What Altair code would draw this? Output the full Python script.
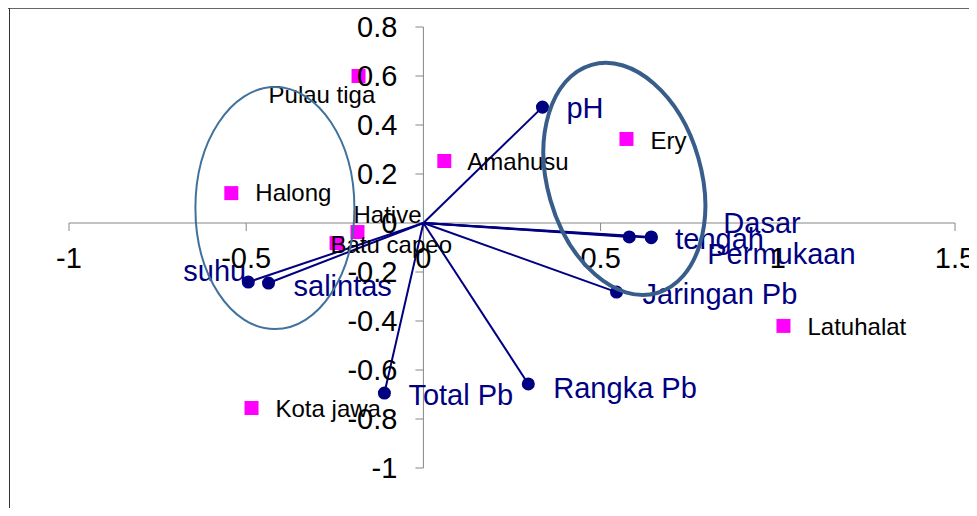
import altair as alt
import pandas as pd

# ---------------- data ----------------
site_names = ["Pulau tiga", "Halong", "Hative", "Batu capeo", "Amahusu", "Ery", "Latuhalat", "Kota jawa"]
site_x = [-0.183, -0.542, -0.186, -0.245, 0.059, 0.573, 1.016, -0.485]
site_y = [0.600, 0.122, -0.037, -0.082, 0.253, 0.343, -0.420, -0.755]

var_names = ["pH", "Dasar", "tengah", "Permukaan", "Jaringan Pb", "Rangka Pb", "Total Pb", "salintas", "suhu"]
var_x = [0.336, 0.581, 0.643, 0.643, 0.545, 0.296, -0.110, -0.437, -0.494]
var_y = [0.473, -0.057, -0.057, -0.060, -0.282, -0.657, -0.694, -0.245, -0.241]

x_ticks = [-1, -0.5, 0, 0.5, 1, 1.5]
x_tick_labels = ["-1", "-0.5", "0", "0.5", "1", "1.5"]
y_ticks = [-1, -0.8, -0.6, -0.4, -0.2, 0, 0.2, 0.4, 0.6, 0.8]
y_tick_labels = ["-1", "-0.8", "-0.6", "-0.4", "-0.2", "0", "0.2", "0.4", "0.6", "0.8"]

ellipse_cx = [-0.419, 0.567]
ellipse_cy = [0.061, 0.180]

# ---------------- layout / style ----------------
W, H = 961, 500
PX_X = 354.4   # pixels per x unit
PX_Y = 245.0   # pixels per y unit
X_MIN = -1 - 61 / PX_X
X_MAX = X_MIN + W / PX_X
Y_MAX = 215 / PX_Y
Y_MIN = Y_MAX - H / PX_Y

FONT = "Liberation Sans"
NAVY = "#000080"
MAGENTA = "#FF00FF"
AXIS_C = "#868686"

site_label_off = {
    "Pulau tiga": (-90, 20), "Halong": (24, 1), "Hative": (-4, -16),
    "Batu capeo": (-6, 3), "Amahusu": (23, 2), "Ery": (24, 3),
    "Latuhalat": (24, 2), "Kota jawa": (24, 2),
}
var_label_off = {
    "pH": (24, 2), "Dasar": (94, -13), "tengah": (24, 3), "Permukaan": (56, 17),
    "Jaringan Pb": (26, 3), "Rangka Pb": (25, 5), "Total Pb": (24, 3),
    "salintas": (25, 4), "suhu": (-65, -10),
}

xs = alt.Scale(domain=[X_MIN, X_MAX], nice=False, zero=False)
ys = alt.Scale(domain=[Y_MIN, Y_MAX], nice=False, zero=False)


def X(f):
    return alt.X(f, type="quantitative", scale=xs, axis=None)


def Y(f):
    return alt.Y(f, type="quantitative", scale=ys, axis=None)


def ellipse_path(ratio):
    k = 0.5523
    a = ratio
    return (f"M{a},0 C{a},{k} {k*a},1 0,1 C{-k*a},1 {-a},{k} {-a},0 "
            f"C{-a},{-k} {-k*a},-1 0,-1 C{k*a},-1 {a},{-k} {a},0 Z")


sites = pd.DataFrame({"name": site_names, "x": site_x, "y": site_y})
vars_df = pd.DataFrame({"name": var_names, "x": var_x, "y": var_y,
                        "x0": [0.0] * len(var_names), "y0": [0.0] * len(var_names)})
xt = pd.DataFrame({"v": x_ticks, "lab": x_tick_labels, "zero": [0.0] * len(x_ticks)})
yt = pd.DataFrame({"v": y_ticks, "lab": y_tick_labels, "zero": [0.0] * len(y_ticks)})
axes_df = pd.DataFrame({"x": [x_ticks[0], 0.0], "x2": [x_ticks[-1], 0.0],
                        "y": [0.0, y_ticks[0]], "y2": [0.0, y_ticks[-1]]})
one = pd.DataFrame({"a": [0]})

layers = []

# axis lines
layers.append(alt.Chart(axes_df).mark_rule(color=AXIS_C, strokeWidth=1).encode(
    x=X("x"), x2="x2", y=Y("y"), y2="y2"))
# tick marks
layers.append(alt.Chart(xt).mark_point(shape="M0,0L0,1", size=256, filled=False,
                                       stroke=AXIS_C, strokeWidth=1, opacity=1).encode(
    x=X("v"), y=Y("zero")))
layers.append(alt.Chart(yt).mark_point(shape="M0,0L-1,0", size=256, filled=False,
                                       stroke=AXIS_C, strokeWidth=1, opacity=1).encode(
    x=X("zero"), y=Y("v")))

# vectors
layers.append(alt.Chart(vars_df).mark_rule(color=NAVY, strokeWidth=2).encode(
    x=X("x0"), y=Y("y0"), x2="x", y2="y"))

# site squares
layers.append(alt.Chart(sites).mark_square(size=196, color=MAGENTA, opacity=1).encode(
    x=X("x"), y=Y("y")))
# variable circles
layers.append(alt.Chart(vars_df).mark_circle(size=170, color=NAVY, opacity=1).encode(
    x=X("x"), y=Y("y")))

# site labels
for n in site_names:
    dx, dy = site_label_off[n]
    layers.append(alt.Chart(sites).transform_filter(alt.datum.name == n).mark_text(
        align="left", baseline="middle", dx=dx, dy=dy, font=FONT, fontSize=24,
        color="black").encode(x=X("x"), y=Y("y"), text="name"))

# variable labels
for n in var_names:
    dx, dy = var_label_off[n]
    layers.append(alt.Chart(vars_df).transform_filter(alt.datum.name == n).mark_text(
        align="left", baseline="middle", dx=dx, dy=dy, font=FONT, fontSize=29,
        color=NAVY).encode(x=X("x"), y=Y("y"), text="name"))

# tick labels
layers.append(alt.Chart(xt).mark_text(align="center", baseline="middle", dy=36,
                                      font=FONT, fontSize=29, color="black").encode(
    x=X("v"), y=Y("zero"), text="lab"))
layers.append(alt.Chart(yt).mark_text(align="right", baseline="middle", dx=-26, dy=1,
                                      font=FONT, fontSize=29, color="black").encode(
    x=X("zero"), y=Y("v"), text="lab"))

# ellipses
ell_left = pd.DataFrame({"x": [ellipse_cx[0]], "y": [ellipse_cy[0]]})
ell_right = pd.DataFrame({"x": [ellipse_cx[1]], "y": [ellipse_cy[1]]})
layers.append(alt.Chart(ell_left).mark_point(shape=ellipse_path(0.657), size=242 ** 2,
                                             filled=False, stroke="#41719C", strokeWidth=2,
                                             opacity=1).encode(x=X("x"), y=Y("y")))
layers.append(alt.Chart(ell_right).mark_point(shape=ellipse_path(0.648), size=237.4 ** 2,
                                              filled=False, stroke="#385D8A", strokeWidth=4,
                                              angle=344, opacity=1).encode(x=X("x"), y=Y("y")))

# chart frame (top and left edges visible)
layers.append(alt.Chart(one).mark_rule(color="#666666", strokeWidth=1).encode(
    x=alt.value(0), x2=alt.value(W), y=alt.value(0.5)))
layers.append(alt.Chart(one).mark_rule(color="#333333", strokeWidth=1).encode(
    x=alt.value(1.5), y=alt.value(0), y2=alt.value(H)))

chart = alt.layer(*layers).properties(
    width=W, height=H, padding=0, autosize=alt.AutoSizeParams(type="none")
).configure_view(stroke=None)

chart.save("out.html", embed_options={"renderer": "svg", "actions": False})
